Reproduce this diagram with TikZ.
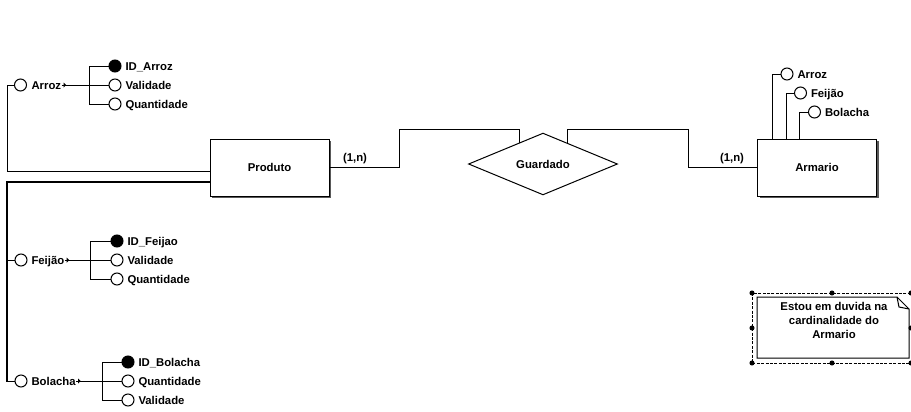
\documentclass[tikz,border=0pt]{standalone}
\usepackage{fontspec}
\setmainfont{Liberation Sans}
\usetikzlibrary{shapes.geometric,shadows,calc}
\begin{document}
\begin{tikzpicture}[x=0.75pt,y=-0.75pt,line width=0.75pt,
  every node/.style={font=\fontsize{8.5}{10}\selectfont\bfseries},
  ent/.style={draw,fill=white,minimum width=89.25pt,minimum height=42.75pt,inner sep=0pt,
    drop shadow={shadow xshift=1.5pt,shadow yshift=-1.5pt,fill=black!65,opacity=1}},
  attr/.style={draw,circle,fill=white,minimum size=9pt,inner sep=0pt},
  keyattr/.style={attr,fill=black},
  lbl/.style={anchor=base west,inner sep=0pt,yshift=-3pt},
  rel/.style={draw,diamond,fill=white,minimum width=111.75pt,minimum height=37.5pt,inner sep=0pt},
  heavy/.style={line width=1.5pt},
  tickmark/.style={fill=black},
  handle/.style={fill=black},
]
\useasboundingbox (0,0) rectangle (911,411);

% entities and relationship
\node[ent] (prod) at (269.5,167.5) {Produto};
\node[ent] (arm) at (817,167.5) {Armario};
\node[rel] (guard) at (543,164) {Guardado};

% cardinalities
\node (c1) at (355,158.5) {(1,n)};
\node (c2) at (732,158.5) {(1,n)};

% relationship connectors
\coordinate (gl) at ($(guard.west)!0.68!(guard.north)$);
\coordinate (gr) at ($(guard.north)!0.333!(guard.east)$);
\draw (prod.east) -- (399,167.5) |- (gl |- 0,129) -- (gl);
\draw (gr) -- (gr |- 0,129) -| (688,167.5) -- (arm.west);

% ---- Produto attributes ----
% Arroz
\node[attr] (arroz) at (20.5,85) {};
\node[lbl] (arrozT) at (31,85) {Arroz};
\node[keyattr] (idA) at (115,66) {};
\node[lbl] (idAT) at (125,66) {ID\_Arroz};
\node[attr] (vA) at (115,85) {};
\node[lbl] (vAT) at (125,85) {Validade};
\node[attr] (qA) at (115,104) {};
\node[lbl] (qAT) at (125,104) {Quantidade};
\draw (arrozT.east |- vA.west) -- (vA.west);
\draw (idA.west) -| (89,104) -- (qA.west);
\fill[tickmark] ($(arrozT.east |- vA.west)+(2,-2.5)$) -- ++(0,5) -- ++(2.5,-2.5) -- cycle;

% Feijao
\node[attr] (feij) at (21,260) {};
\node[lbl] (feijT) at (31,260) {Feijão};
\node[keyattr] (idF) at (117,241) {};
\node[lbl] (idFT) at (127,241) {ID\_Feijao};
\node[attr] (vF) at (117,260) {};
\node[lbl] (vFT) at (127,260) {Validade};
\node[attr] (qF) at (117,279) {};
\node[lbl] (qFT) at (127,279) {Quantidade};
\draw (feijT.east |- vF.west) -- (vF.west);
\draw (idF.west) -| (90,279) -- (qF.west);
\fill[tickmark] ($(feijT.east |- vF.west)+(2,-2.5)$) -- ++(0,5) -- ++(2.5,-2.5) -- cycle;

% Bolacha
\node[attr] (bol) at (21,381) {};
\node[lbl] (bolT) at (31,381) {Bolacha};
\node[keyattr] (idB) at (128,362) {};
\node[lbl] (idBT) at (138,362) {ID\_Bolacha};
\node[attr] (qB) at (128,381) {};
\node[lbl] (qBT) at (138,381) {Quantidade};
\node[attr] (vB) at (128,400) {};
\node[lbl] (vBT) at (138,400) {Validade};
\draw (bolT.east |- qB.west) -- (qB.west);
\draw (idB.west) -| (102,400) -- (vB.west);
\fill[tickmark] ($(bolT.east |- qB.west)+(2,-2.5)$) -- ++(0,5) -- ++(2.5,-2.5) -- cycle;

% links from Produto to its composite attributes
\draw ([yshift=-2.625pt]prod.west) -- (7,171) |- (arroz.west);
\draw[heavy,line cap=rect] ([yshift=-10.875pt]prod.west) -- (7,182) -- (7,381);
\draw (7,260) -- (feij.west);
\draw (7,381) -- (bol.west);

% ---- Armario attributes ----
\node[attr] (aA) at (787,74) {};
\node[lbl] (aAT) at (797,74) {Arroz};
\node[attr] (aF) at (800.5,93) {};
\node[lbl] (aFT) at (810.5,93) {Feijão};
\node[attr] (aB) at (814.5,112) {};
\node[lbl] (aBT) at (824.5,112) {Bolacha};
\draw (aA.west) -| (arm.north -| 772,0);
\draw (aF.west) -| (arm.north -| 786,0);
\draw (aB.west) -| (arm.north -| 799,0);

% ---- note ----
\draw (757,297) -- (897,297) -- (909,309) -- (909,358) -- (757,358) -- cycle;
\draw (897,297) -- (899,307) -- (909,309);
\node[align=center,font=\fontsize{8.5}{10.2}\selectfont\bfseries] (note) at (834,320.5)
  {Estou em duvida na\\cardinalidade do\\Armario};
\draw[dash pattern=on 2.2pt off 1.1pt,line width=0.6pt] (752,293) rectangle (911,363);
\foreach \hx in {752,832,911}{
  \fill[handle] (\hx,293) circle (1.9pt);
  \fill[handle] (\hx,363) circle (1.9pt);
}
\fill[handle] (752,328) circle (1.9pt);
\fill[handle] (911,328) circle (1.9pt);
\end{tikzpicture}
\end{document}
